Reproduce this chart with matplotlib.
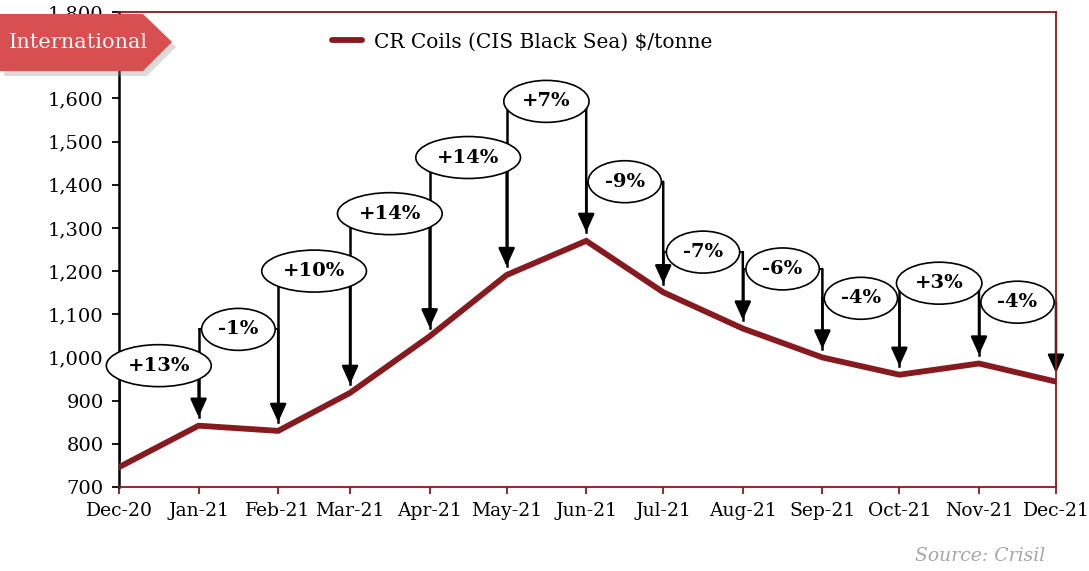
import numpy as np
import pandas as pd
import matplotlib
matplotlib.use('Agg')
import matplotlib.pyplot as plt
import matplotlib.dates as mdates
from matplotlib.patches import Polygon

months = ['Dec-20', 'Jan-21', 'Feb-21', 'Mar-21', 'Apr-21', 'May-21', 'Jun-21',
          'Jul-21', 'Aug-21', 'Sep-21', 'Oct-21', 'Nov-21', 'Dec-21']
prices = [746, 842, 830, 918, 1049, 1191, 1270, 1151, 1067, 1000, 960, 986, 944]
changes = ['+13%', '-1%', '+10%', '+14%', '+14%', '+7%', '-9%',
           '-7%', '-6%', '-4%', '+3%', '-4%']
# height of each bracket (in $/tonne)
levels = [981, 1065, 1200, 1333, 1463, 1593, 1407, 1244, 1205, 1137, 1172, 1128]

dates = pd.to_datetime(months, format='%b-%y')
xn = mdates.date2num(dates)

W, H = 1089, 571
plt.rcParams['font.family'] = ['DejaVu Serif']
red = '#861A1F'

fig = plt.figure(figsize=(W / 100, H / 100), dpi=100)
ax = fig.add_axes([119 / W, 1 - 487 / H, (1056 - 119) / W, (487 - 12) / H])

ax.plot(xn, prices, color=red, lw=4.2, solid_joinstyle='miter', zorder=3,
        label='CR Coils (CIS Black Sea) $/tonne')

gap = 20
for i, lab in enumerate(changes):
    x0, x1, L = xn[i], xn[i + 1], levels[i]
    ax.plot([x0, x0], [prices[i] + gap, L], color='black', lw=1.8, zorder=2)
    ax.plot([x0, x1], [L, L], color='black', lw=1.3, zorder=2)
    ax.annotate('', xy=(x1, prices[i + 1] + gap), xytext=(x1, L),
                arrowprops=dict(arrowstyle='-|>,head_length=1.1,head_width=0.5',
                                color='black', lw=1.8, shrinkA=0, shrinkB=0),
                zorder=2)
    ax.text((x0 + x1) / 2, L, lab, ha='center', va='center', fontsize=14,
            fontweight='bold', zorder=5,
            bbox=dict(boxstyle='ellipse,pad=0.3', fc='white', ec='black', lw=1.2))

ax.set_xlim(xn[0], xn[-1])
ax.set_ylim(700, 1800)
ax.set_yticks(np.arange(700, 1801, 100))
ax.yaxis.set_major_formatter(matplotlib.ticker.FuncFormatter(lambda v, p: f'{int(v):,}'))
ax.set_xticks(xn)
ax.set_xticklabels(months)
ax.tick_params(axis='y', direction='out', length=5, width=1.3, color='black',
               labelsize=14, pad=6)
ax.tick_params(axis='x', direction='out', length=5, width=1.3, color=red,
               labelsize=13.5, pad=6)
ax.spines['left'].set_color('black')
ax.spines['left'].set_linewidth(1.8)
for s in ['bottom', 'top', 'right']:
    ax.spines[s].set_color(red)
    ax.spines[s].set_linewidth(1.3)

leg = ax.legend(loc='center left', bbox_to_anchor=(195 / 937, 1 - 30 / 475),
                frameon=False, fontsize=14.5, handlelength=1.5, handletextpad=0.6)
leg.get_lines()[0].set_solid_capstyle('round')

# banner
def px(x, y):
    return (x / W, 1 - y / H)

shape = [(0, 14), (143, 14), (172, 42), (143, 71), (0, 71)]
shadow = Polygon([px(x + 4, y + 5) for x, y in shape], closed=True,
                 transform=fig.transFigure, fc='#999999', alpha=0.35,
                 ec='none', zorder=9)
banner = Polygon([px(x, y) for x, y in shape], closed=True,
                 transform=fig.transFigure, fc='#D94F4F', ec='none', zorder=10)
fig.patches.extend([shadow, banner])
fig.text(*px(78, 43), 'International', color='white', fontsize=15,
         ha='center', va='center', zorder=11)

fig.text(*px(1045, 556), 'Source: Crisil', color='#A6A6A6', fontsize=13.5,
         style='italic', ha='right', va='center')

fig.savefig('out.png', dpi=100)
